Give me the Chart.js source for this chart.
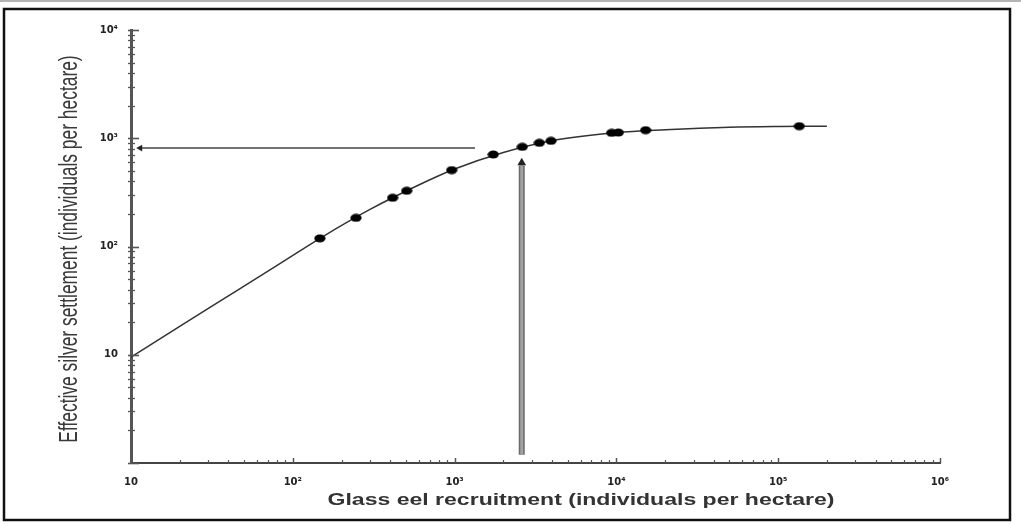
<!DOCTYPE html>
<html>
<head>
<meta charset="utf-8">
<script src="https://cdn.jsdelivr.net/npm/chart.js@4.4.1/dist/chart.umd.min.js"></script>
<style>
  html, body { margin: 0; padding: 0; background: #fff; overflow: hidden; }
  #wrap { position: relative; width: 1021px; height: 525px; }
</style>
</head>
<body>
<div id="wrap"><canvas id="c" width="1021" height="525"></canvas></div>
<script>
// Observed glass eel recruitment vs. effective silver eel settlement (individuals per hectare)
const obsRecruitment = [147, 246, 414, 506, 960, 1734, 2620, 3340, 3944, 9350, 10280, 15170, 135000];
const obsSettlement  = [119, 184, 282, 327, 508, 708, 833, 907, 946, 1122, 1130, 1188, 1294];

// Fitted density-dependent settlement curve
const curveRecruitment = [10, 20, 40, 80, 150, 300, 600, 1000, 2000, 4000, 10000, 20000, 50000, 100000, 200000];
const curveSettlement  = [9.5, 18.3, 35, 67, 121, 220, 370, 520, 740, 950, 1130, 1200, 1266, 1285, 1290];

// Reading arrows: settlement level (horizontal) and recruitment level (vertical)
const targetSettlement = 811;
const hArrowRecruitment = [11.4, 1337];
const requiredRecruitment = 2600;
const vArrowSettlement = [1.19, 560];
const vArrowHead = 595;

// Axis decades and their labels
const xDecades = [10, 100, 1000, 10000, 100000, 1000000];
const xDecadeLabels = ['10', '10²', '10³', '10⁴', '10⁵', '10⁶'];
const yDecades = [1, 10, 100, 1000, 10000];
const yDecadeLabels = ['', '10', '10²', '10³', '10⁴'];
const minorSteps = [2, 3, 4, 5, 6, 7, 8, 9];

const xTitle = 'Glass eel recruitment (individuals per hectare)';
const yTitle = 'Effective silver settlement (individuals per hectare)';

function pairs(xs, ys) { return xs.map((x, i) => ({ x, y: ys[i] })); }

function logTicks(decades) {
  const out = [];
  decades.forEach((d, i) => {
    out.push({ value: d, major: true });
    if (i < decades.length - 1) minorSteps.forEach(m => out.push({ value: d * m, major: false }));
  });
  return out;
}

function labelFor(decades, labels) {
  return function (value) {
    const i = decades.findIndex(d => Math.abs(d - value) / d < 1e-6);
    return i >= 0 ? labels[i] : '';
  };
}

// Flattened elliptical dot used for the observations
const dot = document.createElement('canvas');
dot.width = 12; dot.height = 9;
(function () {
  const g = dot.getContext('2d');
  g.fillStyle = '#000';
  g.beginPath();
  g.ellipse(6, 4.5, 5.6, 4, 0, 0, Math.PI * 2);
  g.fill();
})();

// Page frame behind the chart
const framePlugin = {
  id: 'frame',
  beforeDraw(chart) {
    const ctx = chart.ctx;
    ctx.save();
    ctx.fillStyle = '#fff';
    ctx.fillRect(0, 0, chart.width, chart.height);
    ctx.fillStyle = '#b4b4b4';
    ctx.fillRect(0, 0, chart.width, 2);
    ctx.strokeStyle = '#111';
    ctx.lineWidth = 2.5;
    ctx.strokeRect(4, 9, 1006, 511);
    ctx.restore();
  }
};

// Inward tick marks on both axes
const tickPlugin = {
  id: 'innerTicks',
  afterDraw(chart) {
    const ctx = chart.ctx;
    const xs = chart.scales.x, ys = chart.scales.y;
    const area = chart.chartArea;
    ctx.save();
    ctx.strokeStyle = '#555';
    xs.ticks.forEach(t => {
      const px = Math.round(xs.getPixelForValue(t.value)) + 0.5;
      ctx.lineWidth = t.major ? 1.5 : 1.2;
      ctx.beginPath();
      ctx.moveTo(px, area.bottom);
      ctx.lineTo(px, area.bottom - (t.major ? 5 : 3));
      ctx.stroke();
    });
    ys.ticks.forEach(t => {
      const py = Math.round(ys.getPixelForValue(t.value)) + 0.5;
      ctx.lineWidth = t.major ? 1.6 : 1.3;
      ctx.beginPath();
      ctx.moveTo(area.left - 3, py);
      ctx.lineTo(area.left + (t.major ? 8 : 4), py);
      ctx.stroke();
    });
    ctx.restore();
  }
};

// Axis titles, drawn slightly widened
const titlePlugin = {
  id: 'axisTitles',
  afterDraw(chart) {
    const ctx = chart.ctx;
    ctx.save();
    ctx.textAlign = 'center';
    ctx.textBaseline = 'middle';
    ctx.font = 'bold 17px "Liberation Sans", Arial, sans-serif';
    ctx.fillStyle = '#333';
    ctx.save();
    ctx.translate(581, 500);
    ctx.scale(1.355, 1);
    ctx.fillText(xTitle, 0, 0);
    ctx.restore();
    ctx.font = '17.4px "Liberation Sans", Arial, sans-serif';
    ctx.fillStyle = '#3a3a3a';
    ctx.save();
    ctx.translate(70, 249);
    ctx.scale(1.45, 1);
    ctx.rotate(-Math.PI / 2);
    ctx.fillText(yTitle, 0, 0);
    ctx.restore();
    ctx.restore();
  }
};

const tickFont = { family: '"DejaVu Sans", sans-serif', size: 10, weight: 'bold' };

new Chart(document.getElementById('c'), {
  type: 'scatter',
  data: {
    datasets: [
      {
        data: pairs(curveRecruitment, curveSettlement),
        showLine: true,
        borderColor: '#333',
        borderWidth: 1.5,
        pointRadius: 0,
        cubicInterpolationMode: 'monotone',
        order: 5
      },
      {
        data: pairs(hArrowRecruitment, [targetSettlement, targetSettlement]),
        showLine: true,
        borderColor: '#444',
        backgroundColor: '#222',
        borderWidth: 1.5,
        pointStyle: 'triangle',
        pointRadius: [4, 0],
        pointBorderWidth: 0,
        pointRotation: -90,
        order: 4
      },
      {
        data: pairs([requiredRecruitment, requiredRecruitment], vArrowSettlement),
        showLine: true,
        borderColor: '#6a6a6a',
        borderWidth: 6,
        pointRadius: 0,
        order: 3
      },
      {
        data: pairs([requiredRecruitment, requiredRecruitment], vArrowSettlement),
        showLine: true,
        borderColor: '#a2a2a2',
        borderWidth: 3,
        pointRadius: 0,
        order: 2
      },
      {
        data: [{ x: requiredRecruitment, y: vArrowHead }],
        showLine: false,
        pointStyle: 'triangle',
        pointRadius: 5,
        backgroundColor: '#222',
        borderColor: '#222',
        pointBorderWidth: 0,
        order: 1
      },
      {
        data: pairs(obsRecruitment, obsSettlement),
        showLine: false,
        pointStyle: dot,
        pointRadius: 5,
        order: 0
      }
    ]
  },
  options: {
    responsive: false,
    animation: false,
    events: [],
    layout: { padding: { top: 30, right: 81, left: 0, bottom: 0 } },
    plugins: { legend: { display: false }, tooltip: { enabled: false }, title: { display: false } },
    scales: {
      x: {
        type: 'logarithmic',
        position: 'bottom',
        min: 10,
        max: 1000000,
        grid: { display: false, drawTicks: false },
        border: { display: true, color: '#444', width: 2 },
        afterBuildTicks: s => { s.ticks = logTicks(xDecades); },
        afterFit: s => { s.height = 62; },
        ticks: {
          autoSkip: false,
          maxRotation: 0,
          padding: 13,
          color: '#222',
          font: tickFont,
          callback: labelFor(xDecades, xDecadeLabels)
        }
      },
      y: {
        type: 'logarithmic',
        position: 'left',
        min: 1,
        max: 10000,
        grid: { display: false, drawTicks: false },
        border: { display: true, color: '#555', width: 3 },
        afterBuildTicks: s => { s.ticks = logTicks(yDecades); },
        afterFit: s => { s.width = 131; },
        ticks: {
          autoSkip: false,
          padding: 13,
          color: '#222',
          font: tickFont,
          callback: labelFor(yDecades, yDecadeLabels)
        }
      }
    }
  },
  plugins: [framePlugin, tickPlugin, titlePlugin]
});
</script>
</body>
</html>
